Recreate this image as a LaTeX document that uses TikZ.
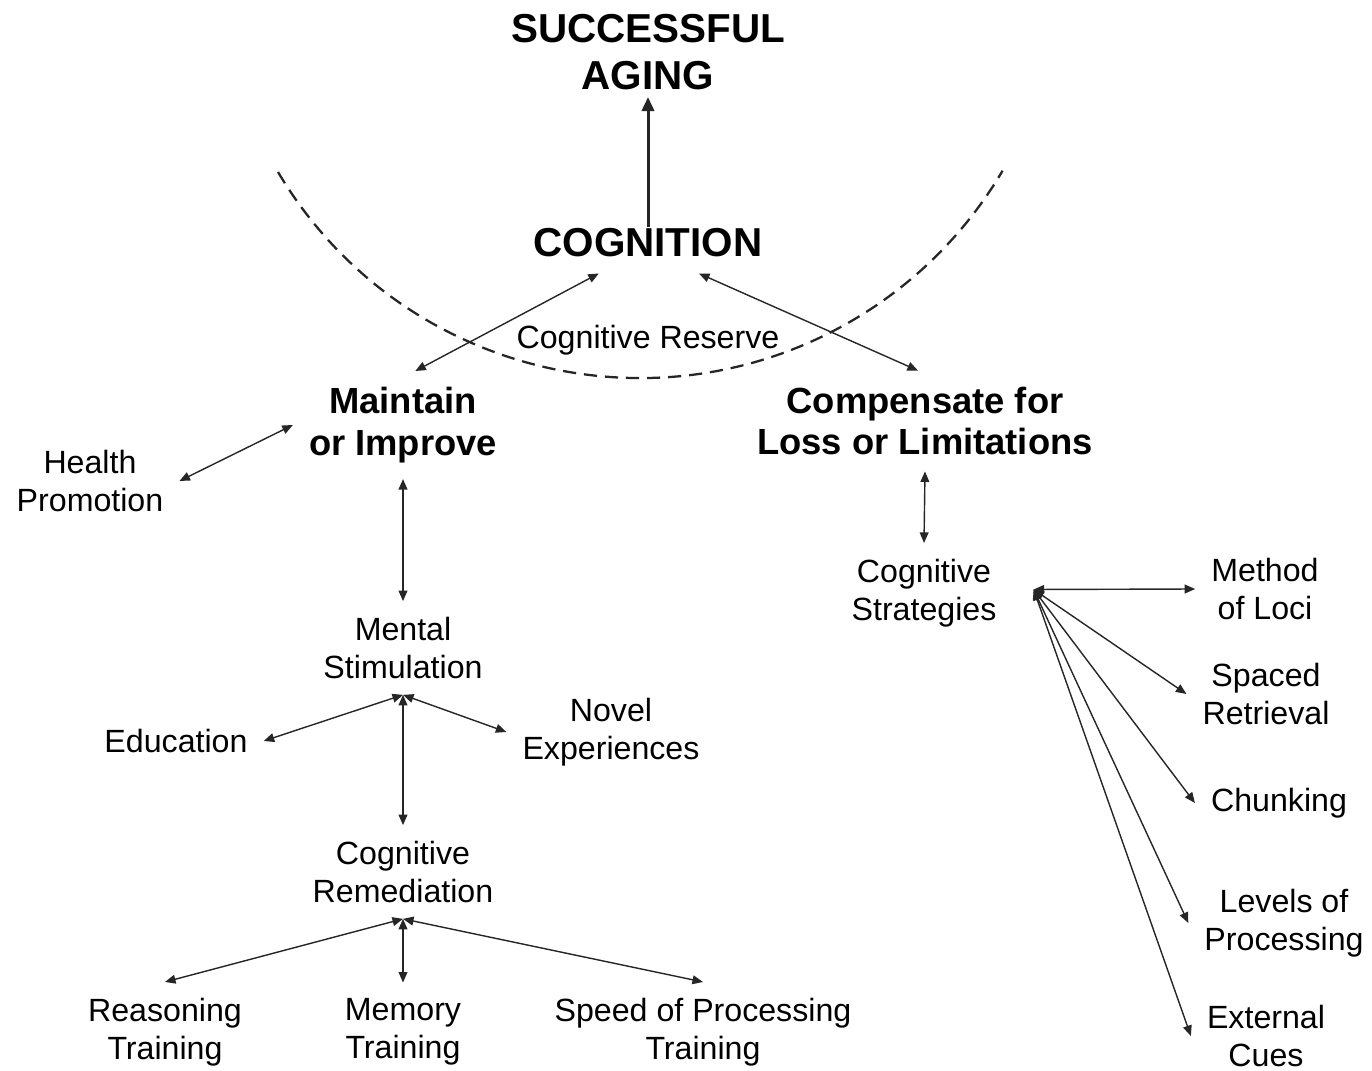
\documentclass[tikz,border=0pt]{standalone}
\usepackage{fontspec}
\setmainfont{Liberation Sans}
\usetikzlibrary{arrows.meta}

\begin{document}
\begin{tikzpicture}[x=0.02cm,y=0.02cm,
        >={Triangle[length=6pt,width=5pt]},
        lbl/.style={align=center,inner sep=9pt,font=\fontsize{18.3}{21.5}\selectfont},
        boldlbl/.style={align=center,inner sep=9pt,font=\fontsize{20.7}{23.8}\selectfont\bfseries},
        titlelbl/.style={align=center,inner sep=9pt,font=\fontsize{23}{26.6}\selectfont\bfseries},
        conn/.style={<->,black!85,line width=0.8pt}]
        \useasboundingbox (0,0) rectangle (1372,-1071);
        \draw[black!85,line width=1.3pt,dash pattern=on 7.5pt off 4.5pt] (278,-172) arc[start angle=210.7, end angle=329.5, radius=8.42cm];
        \node[titlelbl,inner sep=4pt] (aging) at (648,-52) {SUCCESSFUL\\AGING};
        \node[titlelbl] (cog) at (648,-243) {COGNITION};
        \node[lbl,inner sep=0pt] (reserve) at (648,-340) {Cognitive Reserve};
        \node[boldlbl] (maint) at (403,-425) {Maintain\\or Improve};
        \node[boldlbl] (comp) at (925,-421) {Compensate for\\Loss or Limitations};
        \node[lbl] (health) at (90,-481) {Health\\Promotion};
        \node[lbl] (stim) at (403,-648) {Mental\\Stimulation};
        \node[lbl] (edu) at (176,-741) {Education};
        \node[lbl] (novel) at (611,-732) {Novel\\Experiences};
        \node[lbl] (remed) at (403,-872) {Cognitive\\Remediation};
        \node[lbl] (reason) at (165,-1032) {Reasoning\\Training};
        \node[lbl] (memory) at (403,-1032) {Memory\\Training};
        \node[lbl] (speed) at (703,-1032) {Speed of Processing\\Training};
        \node[lbl] (strat) at (924,-593) {Cognitive\\Strategies};
        \node[lbl] (loci) at (1265,-589) {Method\\of Loci};
        \node[lbl] (spaced) at (1266,-694) {Spaced\\Retrieval};
        \node[lbl] (chunk) at (1279,-803) {Chunking};
        \node[lbl] (levels) at (1284,-923) {Levels of\\Processing};
        \node[lbl] (cues) at (1266,-1036) {External\\Cues};
        \coordinate (strathub) at ([xshift=12pt,yshift=2pt]strat.east);
        \draw[->,black!85,line width=1.7pt,>={Triangle[length=8pt,width=7pt]},shorten <=-8pt] (cog.north) -- (aging.south);
        \draw[conn] ([xshift=-28pt]cog.south) -- ([xshift=7pt]maint.north);
        \draw[conn] ([xshift=29pt]cog.south) -- ([xshift=-4pt]comp.north);
        \draw[conn] (health.east) -- (maint.west);
        \draw[conn] (maint.south) -- (stim.north);
        \draw[conn] (stim.south) -- (edu.east);
        \draw[conn] (stim.south) -- (novel.west);
        \draw[conn] (stim.south) -- (remed.north);
        \draw[conn] (remed.south) -- (reason.north);
        \draw[conn] (remed.south) -- (memory.north);
        \draw[conn] (remed.south) -- (speed.north);
        \draw[conn] (comp.south) -- (strat.north);
        \foreach \t in {loci,spaced,chunk,levels,cues}
            \draw[conn] (strathub) -- (\t.west);
    \end{tikzpicture}
\end{document}
